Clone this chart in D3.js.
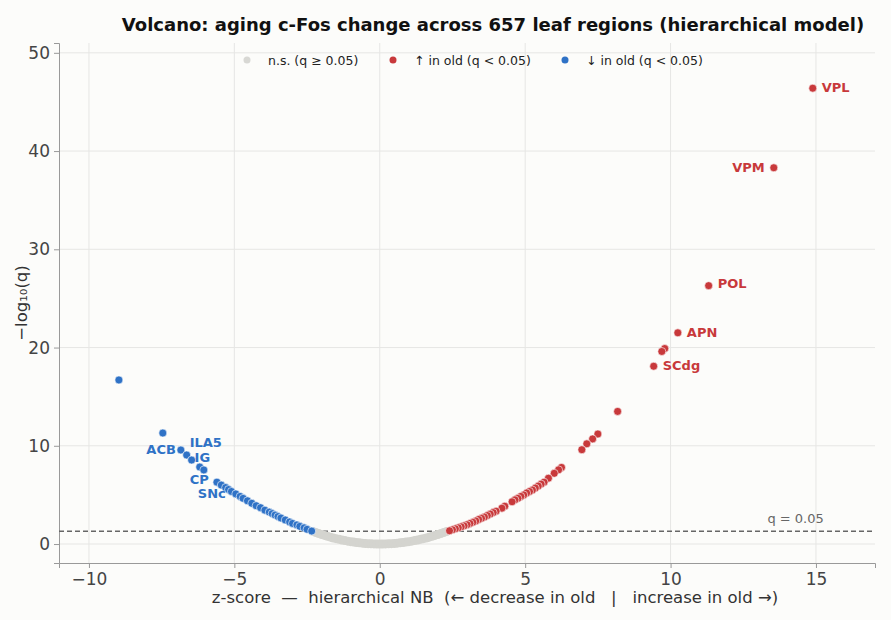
<!DOCTYPE html>
<html><head><meta charset="utf-8">
<script src="https://cdn.jsdelivr.net/npm/d3@7"></script>
<style>body{margin:0;background:#fcfcfa;font-family:"DejaVu Sans",sans-serif}</style>
</head><body><svg id="c" width="891" height="620"></svg>
<script>
// grey (n.s.) points
const nsZ = [-2.3,-2.2,-2.1,-2.0,-1.9,-1.8,-1.7,-1.6,-1.5,-1.4,-1.3,-1.2,-1.1,-1.0,-0.9,-0.8,-0.7,-0.6,-0.5,-0.4,-0.3,-0.2,-0.1,0,0.1,0.2,0.3,0.4,0.5,0.6,0.7,0.8,0.9,1.0,1.1,1.2,1.3,1.4,1.5,1.6,1.7,1.8,1.9,2.0,2.1,2.2,2.3];
const nsQ = [1.28,1.18,1.07,0.97,0.88,0.79,0.7,0.62,0.55,0.48,0.41,0.35,0.29,0.24,0.2,0.16,0.12,0.09,0.06,0.04,0.02,0.01,0.003,0,0.003,0.01,0.02,0.04,0.06,0.09,0.12,0.16,0.2,0.24,0.29,0.35,0.41,0.48,0.55,0.62,0.7,0.79,0.88,0.97,1.07,1.18,1.28];
// down in old
const downZ = [-8.97,-7.46,-6.84,-6.64,-6.47,-6.19,-6.05,-5.6,-5.45,-5.3,-5.2,-5.1,-4.95,-4.8,-4.7,-4.55,-4.4,-4.25,-4.1,-3.95,-3.8,-3.7,-3.6,-3.5,-3.4,-3.25,-3.1,-3.0,-2.85,-2.75,-2.6,-2.5,-2.34];
const downQ = [16.7,11.3,9.57,9.06,8.55,7.84,7.54,6.3,6.0,5.75,5.55,5.35,5.1,4.85,4.65,4.4,4.15,3.9,3.7,3.45,3.25,3.1,2.95,2.8,2.65,2.45,2.25,2.1,1.95,1.8,1.65,1.5,1.32];
// up in old
const upZ = [14.89,13.55,11.31,10.25,9.8,9.7,9.42,8.18,7.5,7.32,7.12,6.95,6.25,6.15,6.0,5.8,5.65,5.55,5.45,5.35,5.25,5.15,5.05,4.95,4.85,4.75,4.65,4.55,4.3,4.2,4.0,3.9,3.8,3.7,3.6,3.5,3.4,3.3,3.2,3.1,3.0,2.9,2.8,2.7,2.6,2.5,2.4];
const upQ = [46.4,38.3,26.3,21.5,19.9,19.6,18.1,13.5,11.2,10.7,10.2,9.6,7.8,7.55,7.2,6.7,6.3,6.1,5.9,5.7,5.5,5.35,5.2,5.0,4.85,4.65,4.5,4.3,3.85,3.65,3.35,3.2,3.05,2.9,2.75,2.62,2.5,2.35,2.22,2.1,1.97,1.85,1.75,1.65,1.55,1.45,1.35];
const labelNames = ["VPL","VPM","POL","APN","SCdg","ACB","ILA5","IG","CP","SNc"];
const labelZ = [14.89,13.55,11.31,10.25,9.42,-6.84,-6.64,-6.47,-6.19,-6.05];
const labelQ = [46.4,38.3,26.3,21.5,18.1,9.57,9.06,8.55,7.84,7.54];
const xTicks = [-10,-5,0,5,10,15];
const yTicks = [0,10,20,30,40,50];
const legendLabels = ["n.s. (q ≥ 0.05)","↑ in old (q < 0.05)","↓ in old (q < 0.05)"];
const qThreshold = -Math.log10(0.05);

const RED="#c8393b", BLUE="#2f72c6", GREY="#d4d4cf";
const labelLayout = [
 {dx:9,dy:4,a:"start"},{dx:-9,dy:4,a:"end"},{dx:9,dy:2,a:"start"},{dx:9,dy:4,a:"start"},{dx:9,dy:4,a:"start"},
 {dx:-5,dy:4,a:"end"},{dx:3,dy:-8,a:"start"},{dx:3,dy:2,a:"start"},{dx:-10,dy:17,a:"start"},{dx:-6,dy:28,a:"start"}];

const svg=d3.select("#c");
const m={l:59,r:875,t:43,b:563};
const x=d3.scaleLinear().domain([-11.03,17.03]).range([m.l,m.r]);
const y=d3.scaleLinear().domain([-1.93,51.0]).range([m.b,m.t]);
svg.append("rect").attr("width",891).attr("height",620).attr("fill","#fcfcfa");
const g=svg.append("g");
xTicks.forEach(t=>g.append("line").attr("x1",x(t)).attr("x2",x(t)).attr("y1",m.t).attr("y2",m.b).attr("stroke","#e6e6e4"));
yTicks.forEach(t=>g.append("line").attr("x1",m.l).attr("x2",m.r).attr("y1",y(t)).attr("y2",y(t)).attr("stroke","#e6e6e4"));
const xa=svg.append("g").attr("transform",`translate(0,${m.b})`).call(d3.axisBottom(x).tickValues(xTicks).tickFormat(d=>d<0?"−"+Math.abs(d):d).tickSize(5));
const ya=svg.append("g").attr("transform",`translate(${m.l},0)`).call(d3.axisLeft(y).tickValues(yTicks).tickSize(5));
[xa,ya].forEach(a=>{a.attr("font-size",null);a.selectAll("text").style("font-size","17px").attr("fill","#444").attr("font-family","DejaVu Sans");a.selectAll("line,path").attr("stroke","#999");});
xa.selectAll("text").attr("dy","0.8em");
ya.selectAll("text").attr("x",-9);
svg.append("line").attr("x1",m.l).attr("x2",m.r).attr("y1",y(qThreshold)).attr("y2",y(qThreshold)).attr("stroke","#666").attr("stroke-width",1.3).attr("stroke-dasharray","5,3");
svg.append("text").attr("x",x(14.3)).attr("y",y(qThreshold)-8).attr("text-anchor","middle").attr("font-size",13).attr("fill","#666").text("q = 0.05");

function pts(zs,qs,col,r,sw){svg.append("g").selectAll("circle").data(zs).join("circle").attr("cx",d=>x(d)).attr("cy",(d,i)=>y(qs[i])).attr("r",r).attr("fill",col).attr("stroke",sw?"#fff":"none").attr("stroke-width",sw);}
pts(nsZ,nsQ,GREY,4.5,0);
pts(downZ,downQ,BLUE,4,0.6);
pts(upZ,upQ,RED,4,0.6);
labelNames.forEach((n,i)=>{const L=labelLayout[i];svg.append("text").attr("x",x(labelZ[i])+L.dx).attr("y",y(labelQ[i])+L.dy).attr("text-anchor",L.a).attr("font-size",13).attr("font-weight","bold").attr("fill",labelZ[i]>0?RED:BLUE).text(n);});

const legX=[247,393,565], legC=["#d8d8d4",RED,BLUE];
legendLabels.forEach((t,i)=>{svg.append("circle").attr("cx",legX[i]).attr("cy",60).attr("r",3.5).attr("fill",legC[i]);
 svg.append("text").attr("x",legX[i]+21).attr("y",64.5).attr("font-size",12.5).attr("fill","#222").text(t);});

svg.append("text").attr("x",493).attr("y",31).attr("text-anchor","middle").attr("font-size",18).attr("font-weight","bold").attr("fill","#111").text("Volcano: aging c-Fos change across 657 leaf regions (hierarchical model)");
svg.append("text").attr("x",495).attr("y",603).attr("text-anchor","middle").attr("font-size",16.5).attr("fill","#333").style("white-space","pre").text("z-score  —  hierarchical NB  (← decrease in old   |   increase in old →)");
svg.append("text").attr("transform","translate(27,303) rotate(-90)").attr("text-anchor","middle").attr("font-size",16.5).attr("fill","#333").text("−log₁₀(q)");
</script></body></html>
